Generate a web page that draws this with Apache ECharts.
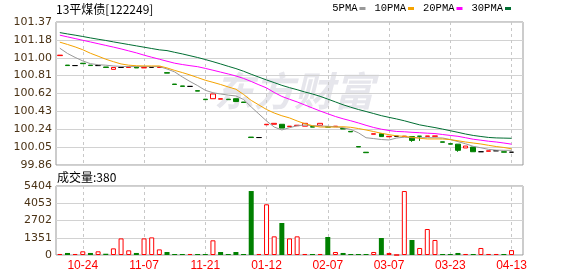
<!DOCTYPE html>
<html><head><meta charset="utf-8">
<script src="https://cdn.jsdelivr.net/npm/echarts@6/dist/echarts.min.js"></script>
<style>html,body{margin:0;padding:0;background:#fff}#c{width:578px;height:276px}</style>
</head><body><div id="c"></div>
<script>
const categories = ['10-19','10-20','10-21','10-24','10-25','10-26','10-28','10-31','11-01','11-02',
'11-04','11-07','11-08','11-09','11-10','11-14','11-15','11-16','11-18','11-21',
'11-25','12-01','12-07','12-14','12-21','12-28','01-05','01-12','01-13','01-16',
'01-17','01-18','01-19','01-23','01-25','02-07','02-08','02-10','02-14','02-16',
'02-20','02-23','03-01','03-07','03-08','03-09','03-10','03-13','03-14','03-15',
'03-21','03-23','03-24','03-27','03-28','03-29','03-31','04-06','04-11','04-13'];
const labelDates = ['10-24','11-07','11-21','01-12','02-07','03-07','03-23','04-13'];
const priceTicks = ['99.86','100.05','100.24','100.43','100.62','100.81','101.00','101.18','101.37'];
const volTicks = ['0','1351','2702','4053','5404'];

const openP = [101.015,100.915,100.910,100.935,100.915,100.910,100.895,100.870,100.890,100.890,
100.895,100.885,100.890,100.890,100.835,100.715,100.695,100.690,100.645,100.555,
100.560,100.555,100.555,100.560,100.525,100.155,100.150,100.285,100.290,100.290,
100.265,100.275,100.270,100.265,100.280,100.265,100.265,100.245,100.215,100.055,
99.995,100.185,100.190,100.158,100.163,100.160,100.160,100.165,100.163,100.163,
100.105,100.085,100.080,100.040,100.050,100.000,100.005,100.010,100.000,99.995];
const closeP = [101.020,100.910,100.910,100.930,100.910,100.910,100.890,100.890,100.890,100.895,
100.885,100.890,100.890,100.895,100.830,100.710,100.690,100.690,100.640,100.550,
100.610,100.560,100.550,100.530,100.520,100.150,100.150,100.290,100.300,100.250,
100.270,100.280,100.300,100.260,100.300,100.260,100.270,100.240,100.210,100.050,
99.990,100.190,100.160,100.163,100.163,100.165,100.120,100.163,100.166,100.167,
100.100,100.080,100.015,100.060,100.000,100.000,100.010,100.010,99.995,99.995];
const lowP = [101.015,100.910,100.910,100.930,100.910,100.910,100.890,100.870,100.890,100.890,
100.885,100.885,100.890,100.890,100.830,100.710,100.690,100.690,100.640,100.550,
100.560,100.555,100.550,100.530,100.520,100.150,100.150,100.285,100.290,100.250,
100.265,100.275,100.270,100.260,100.280,100.260,100.265,100.240,100.210,100.050,
99.990,100.185,100.160,100.158,100.163,100.160,100.105,100.115,100.163,100.163,
100.100,100.080,100.000,100.040,100.000,100.000,100.005,100.010,99.995,99.995];
const highP = [101.020,100.915,100.910,100.935,100.915,100.910,100.895,100.890,100.890,100.895,
100.895,100.890,100.890,100.895,100.835,100.715,100.695,100.690,100.645,100.555,
100.610,100.560,100.555,100.560,100.525,100.155,100.150,100.290,100.300,100.290,
100.270,100.280,100.300,100.265,100.300,100.265,100.270,100.245,100.215,100.055,
99.995,100.190,100.190,100.163,100.163,100.165,100.160,100.165,100.166,100.167,
100.105,100.085,100.080,100.060,100.050,100.000,100.010,100.010,100.000,99.995];
const volumes = [80,160,80,290,160,290,100,520,1300,365,
160,1300,1380,440,235,80,80,80,80,80,
1150,235,80,235,80,5010,80,3970,1460,2505,
1300,1460,80,80,80,1410,235,160,80,80,
80,235,1330,160,0,5010,1175,550,2035,1175,
80,80,160,80,80,550,80,80,80,380];
const ma5 = [101.093,101.038,100.996,100.959,100.930,100.919,100.914,100.906,100.901,100.899,
100.899,100.899,100.899,100.899,100.874,100.843,100.790,100.742,100.698,100.649,
100.623,100.610,100.598,100.589,100.552,100.473,100.399,100.325,100.261,100.230,
100.254,100.274,100.283,100.276,100.272,100.269,100.264,100.254,100.235,100.200,
100.148,100.139,100.129,100.124,100.145,100.154,100.148,100.148,100.148,100.148,
100.145,100.129,100.107,100.084,100.057,100.042,100.025,100.017,100.015,100.015];
const ma10 = [101.157,101.133,101.107,101.077,101.040,101.009,100.977,100.951,100.927,100.914,
100.908,100.906,100.906,100.906,100.885,100.859,100.836,100.811,100.783,100.755,
100.733,100.710,100.684,100.660,100.605,100.542,100.494,100.446,100.409,100.380,
100.357,100.325,100.296,100.275,100.261,100.261,100.261,100.264,100.258,100.245,
100.230,100.213,100.195,100.180,100.168,100.162,100.153,100.142,100.135,100.135,
100.135,100.128,100.116,100.103,100.092,100.082,100.068,100.055,100.045,100.031];
const ma20 = [101.231,101.213,101.195,101.177,101.159,101.141,101.123,101.105,101.086,101.065,
101.044,101.020,100.998,100.977,100.956,100.935,100.921,100.909,100.898,100.880,
100.861,100.841,100.821,100.800,100.774,100.742,100.707,100.674,100.626,100.584,
100.554,100.526,100.494,100.462,100.430,100.401,100.372,100.348,100.327,100.304,
100.279,100.256,100.238,100.224,100.214,100.211,100.205,100.201,100.196,100.192,
100.182,100.172,100.163,100.148,100.132,100.122,100.111,100.103,100.092,100.080];
const ma30 = [101.258,101.244,101.231,101.217,101.202,101.188,101.175,101.160,101.146,101.132,
101.118,101.104,101.090,101.076,101.068,101.050,101.033,101.014,100.995,100.974,
100.951,100.927,100.902,100.878,100.850,100.818,100.788,100.758,100.730,100.701,
100.677,100.655,100.631,100.610,100.585,100.556,100.526,100.496,100.470,100.446,
100.425,100.403,100.381,100.363,100.346,100.327,100.305,100.284,100.269,100.255,
100.239,100.222,100.205,100.187,100.172,100.161,100.151,100.146,100.144,100.142];

const RED = '#ff0000', GREEN = '#008000';
const isLabel = (i) => labelDates.indexOf(categories[i]) >= 0;
const nearestLabel = (ticks) => (v) => {
  let best = ticks[0], d = Infinity;
  ticks.forEach(t => { const dd = Math.abs(+t - v); if (dd < d) { d = dd; best = t; } });
  return best;
};
const candleData = categories.map((c, i) => [openP[i], closeP[i], lowP[i], highP[i]]);
const volData = volumes.map((v, i) => {
  const up = i === 0 || closeP[i] >= closeP[i - 1];
  return { value: v, itemStyle: up ? { color: '#ffffff', borderColor: RED, borderWidth: 1 } : { color: GREEN, borderColor: GREEN, borderWidth: 0 } };
});
const pMin = +priceTicks[0], pMax = +priceTicks[priceTicks.length - 1];
const vMin = +volTicks[0], vMax = +volTicks[volTicks.length - 1];

const axisFont = { fontFamily: 'DejaVu Sans', fontSize: 11, color: '#4a3215' };
const xCommon = {
  type: 'category', data: categories, boundaryGap: true, max: categories.length,
  axisLine: { show: false }, axisTick: { show: false },
  splitLine: { show: true, interval: isLabel, alignWithLabel: true, lineStyle: { color: '#c8c8c8', type: [3, 3], width: 1 } }
};

const chart = echarts.init(document.getElementById('c'));
chart.setOption({
  animation: false,
  backgroundColor: '#ffffff',
  title: [
    { text: '13平煤债[122249]', left: 56, top: 3, padding: 0, textStyle: { fontFamily: 'Noto Sans CJK SC', fontSize: 12, fontWeight: 'normal', color: '#000' } },
    { text: '成交量:' + volumes[volumes.length - 1], left: 57, top: 171, padding: 0, textStyle: { fontFamily: 'Noto Sans CJK SC', fontSize: 12, fontWeight: 'normal', color: '#000' } }
  ],
  legend: {
    data: ['5PMA', '10PMA', '20PMA', '30PMA'], top: 3, right: 67, padding: 0,
    align: 'right', icon: 'rect', itemWidth: 6, itemHeight: 3, itemGap: 9,
    textStyle: { fontFamily: 'Liberation Mono', fontSize: 10.5, color: '#000', padding: [0, -3, 0, 0] }
  },
  graphic: [{
    type: 'text', left: 214, top: 71, z: -10, silent: true,
    style: { text: '东方财富', font: 'italic bold 40px "Noto Sans CJK SC"', fill: '#e6e6ec' }
  }],
  grid: [
    { left: 56, right: 55, top: 22, height: 143, show: true, borderColor: '#999', borderWidth: 1, backgroundColor: 'transparent' },
    { left: 56, right: 55, top: 186, height: 69, show: true, borderColor: '#999', borderWidth: 1, backgroundColor: 'transparent' }
  ],
  xAxis: [
    Object.assign({}, xCommon, { gridIndex: 0, axisLabel: { show: false } }),
    Object.assign({}, xCommon, { gridIndex: 1, axisLabel: { show: true, interval: isLabel, color: RED, fontFamily: 'Liberation Sans', fontSize: 12, margin: 5 } })
  ],
  yAxis: [
    { type: 'value', gridIndex: 0, min: pMin, max: pMax, interval: (pMax - pMin) / (priceTicks.length - 1),
      axisLine: { show: false }, axisTick: { show: false },
      axisLabel: Object.assign({ margin: 4, formatter: nearestLabel(priceTicks) }, axisFont),
      splitLine: { show: true, lineStyle: { color: '#d2d2d2', width: 1 } } },
    { type: 'value', gridIndex: 1, min: vMin, max: vMax, interval: (vMax - vMin) / (volTicks.length - 1),
      axisLine: { show: false }, axisTick: { show: false },
      axisLabel: Object.assign({ margin: 4, formatter: nearestLabel(volTicks) }, axisFont),
      splitLine: { show: true, lineStyle: { color: '#d2d2d2', width: 1 } } }
  ],
  series: [
    { name: 'K', type: 'candlestick', xAxisIndex: 0, yAxisIndex: 0, data: candleData, barWidth: 5,
      itemStyle: { color: '#ffffff', color0: GREEN, borderColor: RED, borderColor0: GREEN, borderColorDoji: '#000000', borderWidth: 1 } },
    { name: '5PMA', type: 'line', data: ma5, symbol: 'none', color: '#999999', lineStyle: { width: 1, color: '#999999' } },
    { name: '10PMA', type: 'line', data: ma10, symbol: 'none', color: '#f5a300', lineStyle: { width: 1, color: '#f5a300' } },
    { name: '20PMA', type: 'line', data: ma20, symbol: 'none', color: '#ff00ff', lineStyle: { width: 1, color: '#ff00ff' } },
    { name: '30PMA', type: 'line', data: ma30, symbol: 'none', color: '#006e32', lineStyle: { width: 1, color: '#006e32' } },
    { name: 'VOL', type: 'bar', xAxisIndex: 1, yAxisIndex: 1, data: volData, barWidth: 5 }
  ]
});
</script>
</body></html>
